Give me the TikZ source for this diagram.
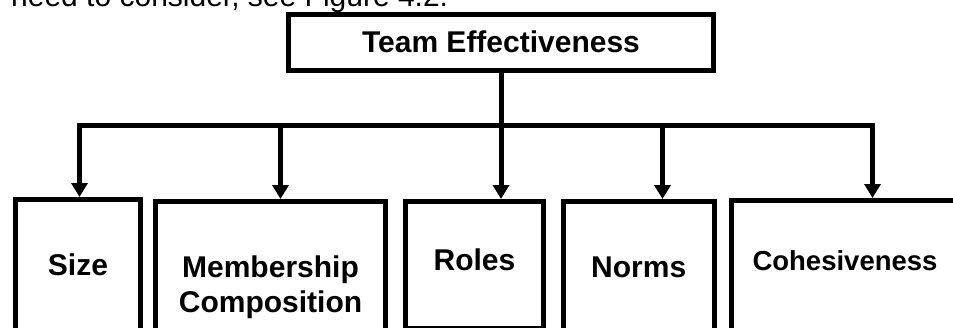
\documentclass[tikz,border=0pt]{standalone}
\usepackage{fontspec}
\setmainfont{Liberation Sans}
\usetikzlibrary{arrows.meta}
\begin{document}
\begin{tikzpicture}[x=1pt,y=-1pt,
  box/.style={draw=black, line width=5pt, rectangle, inner sep=0pt, anchor=center},
  lab/.style={font=\bfseries\fontsize{30}{35}\selectfont, inner sep=0pt, anchor=base, align=center},
  arr/.style={line width=5pt, -{Triangle[width=16pt,length=14pt]}},
  bus/.style={line width=5pt, line cap=rect}]
\useasboundingbox (0,0) rectangle (953,327);
\clip (0,0) rectangle (953,327);

\node[anchor=base west, inner sep=0pt, font=\fontsize{30}{36}\selectfont] (intro) at (11,6) {need to consider, see Figure 4.2.};

\node[box, minimum width=425pt, minimum height=56.5pt, font=\bfseries\fontsize{30}{35}\selectfont] (top) at (501,42.25) {Team Effectiveness};

\node[box, minimum width=125pt, minimum height=160.5pt] (size) at (78,279.75) {};
\node[box, minimum width=229.5pt, minimum height=158.5pt] (memb) at (270.25,280.75) {};
\node[box, minimum width=138pt, minimum height=126.5pt] (roles) at (474.5,264.75) {};
\node[box, minimum width=150.5pt, minimum height=158.5pt] (norms) at (638.75,280.75) {};
\node[box, minimum width=249pt, minimum height=159.5pt] (cohes) at (855.5,280.25) {};

\node[lab] (sizeL) at (78,275) {Size};
\node[lab] (membL) at (270.5,312) {Membership\\Composition};
\node[lab] (rolesL) at (474.5,270) {Roles};
\node[lab] (normsL) at (638.75,277) {Norms};
\node[lab, font=\bfseries\fontsize{27.5}{33}\selectfont] (cohesL) at (845,270) {Cohesiveness};

\coordinate (b1) at (79.5,125);
\coordinate (b2) at (280.5,125);
\coordinate (b3) at (501,125);
\coordinate (b4) at (662.5,125);
\coordinate (b5) at (872.5,125);

\draw[bus] (b1) -- (b5);
\draw[arr] (top.south) -- (top.south |- roles.north);
\draw[arr] (b1) -- (b1 |- size.north);
\draw[arr] (b2) -- (b2 |- memb.north);
\draw[arr] (b4) -- (b4 |- norms.north);
\draw[arr] (b5) -- (b5 |- cohes.north);
\end{tikzpicture}
\end{document}
